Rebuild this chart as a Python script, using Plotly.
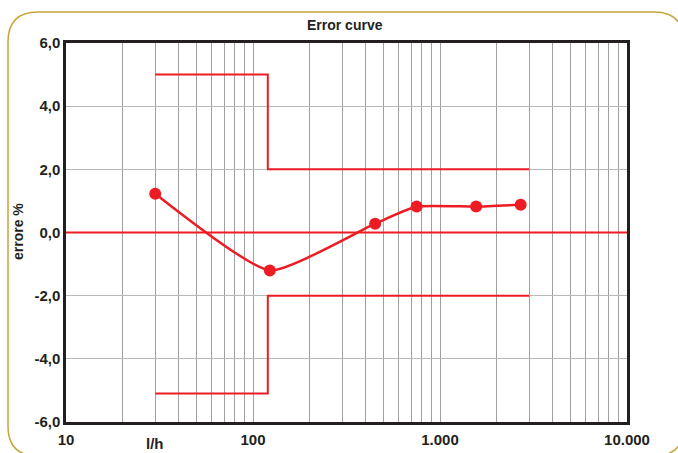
import plotly.graph_objects as go

# ---- data ----
flow = [30, 123, 450, 750, 1560, 2700]          # l/h
error = [1.23, -1.2, 0.28, 0.82, 0.82, 0.88]    # errore %

upper_x = [30, 120, 3000]
upper_y = [5.0, 2.0, 2.0]
lower_x = [30, 120, 3000]
lower_y = [-5.1, -2.0, -2.0]

zero_x = [10, 10000]
zero_y = [0, 0]

x_tickvals = [10, 100, 1000, 10000]
x_ticktext = ["10", "100", "1.000", "10.000"]
x_minor = [20, 30, 40, 50, 60, 70, 80, 90,
           200, 300, 400, 500, 600, 700, 800, 900,
           2000, 3000, 4000, 5000, 6000, 7000, 8000, 9000]
y_tickvals = [-6, -4, -2, 0, 2, 4, 6]
y_ticktext = ["-6,0", "-4,0", "-2,0", "0,0", "2,0", "4,0", "6,0"]

RED = "#ed1c24"
DARK = "#231f20"
FONT = "Liberation Sans Narrow, Arial Narrow, Liberation Sans, sans-serif"

W, H = 678, 453
L, R, T, B = 66, 627, 43, 422

fig = go.Figure()
fig.add_trace(go.Scatter(x=zero_x, y=zero_y, mode="lines",
                         line=dict(color=RED, width=2), hoverinfo="skip"))
fig.add_trace(go.Scatter(x=upper_x, y=upper_y, mode="lines",
                         line=dict(color=RED, width=2, shape="hv")))
fig.add_trace(go.Scatter(x=lower_x, y=lower_y, mode="lines",
                         line=dict(color=RED, width=2, shape="hv")))
fig.add_trace(go.Scatter(x=flow, y=error, mode="lines+markers",
                         line=dict(color=RED, width=2.5, shape="spline", smoothing=0.5),
                         marker=dict(color=RED, size=12)))

pw, ph = R - L, B - T
def px(x): return (x - L) / pw
def py(y): return (B - y) / ph

# rounded frame
x0, x1, y0, y1, r = 8, 684, 12, 456, 30
rx, ry = r / pw, r / ph
path = (f"M {px(x0)+rx},{py(y0)} L {px(x1)-rx},{py(y0)} "
        f"Q {px(x1)},{py(y0)} {px(x1)},{py(y0)-ry} "
        f"L {px(x1)},{py(y1)+ry} Q {px(x1)},{py(y1)} {px(x1)-rx},{py(y1)} "
        f"L {px(x0)+rx},{py(y1)} Q {px(x0)},{py(y1)} {px(x0)},{py(y1)+ry} "
        f"L {px(x0)},{py(y0)-ry} Q {px(x0)},{py(y0)} {px(x0)+rx},{py(y0)} Z")
fig.add_shape(type="path", path=path, xref="paper", yref="paper",
              line=dict(color="#c9a43a", width=1.5), layer="below")

fig.update_layout(
    width=W, height=H,
    margin=dict(l=L, r=W - R, t=T, b=H - B, autoexpand=False, pad=0),
    paper_bgcolor="white", plot_bgcolor="white",
    showlegend=False,
    font=dict(family=FONT, color=DARK, size=14),
    xaxis=dict(type="log", range=[1, 4], tickvals=x_tickvals, ticktext=x_ticktext,
               showgrid=True, gridcolor="#a0a0a0", gridwidth=1, automargin=False,
               ticks="", showline=True, mirror=True, ticklabelstandoff=2,
               linecolor=DARK, linewidth=2.5, zeroline=False,
               tickfont=dict(family=FONT, size=15, color=DARK, weight="bold"),
               minor=dict(tickvals=x_minor, showgrid=True, gridcolor="#a0a0a0",
                          gridwidth=1, ticks="")),
    yaxis=dict(range=[-6, 6], tickvals=y_tickvals, ticktext=y_ticktext,
               showgrid=True, gridcolor="#b8b8b8", gridwidth=1, ticks="",
               automargin=False,
               showline=True, mirror=True, linecolor=DARK, linewidth=2.5,
               zeroline=False,
               tickfont=dict(family=FONT, size=15, color=DARK, weight="bold")),
    annotations=[
        dict(text="<b>Error curve</b>", x=px(345), y=py(25), xref="paper", yref="paper",
             xanchor="center", yanchor="middle",
             showarrow=False, font=dict(family=FONT, size=14, color=DARK)),
        dict(text="<b>errore %</b>", x=px(18), y=py(232), xref="paper", yref="paper",
             xanchor="center", yanchor="middle",
             showarrow=False, textangle=-90, font=dict(family=FONT, size=14, color=DARK)),
        dict(text="<b>l/h</b>", x=px(155), y=py(443), xref="paper", yref="paper",
             xanchor="center", yanchor="middle",
             showarrow=False, font=dict(family=FONT, size=15, color=DARK)),
    ],
)

fig.write_html("out.html", config={"displayModeBar": False},
               post_script="document.body.style.margin='0';document.body.style.padding='0';")
